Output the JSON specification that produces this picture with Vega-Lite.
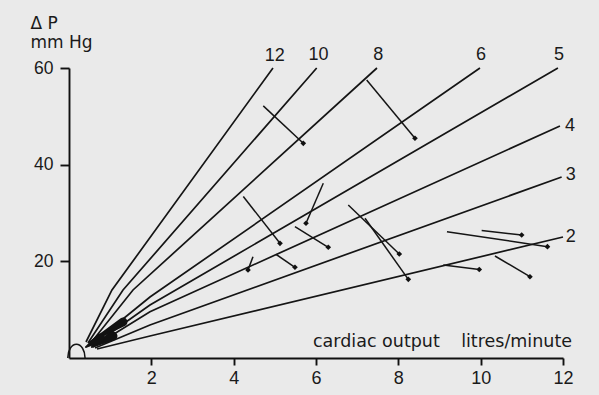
{
  "$schema": "https://vega.github.io/schema/vega-lite/v6.json",
  "width": 494,
  "height": 290,
  "autosize": {"type": "none"},
  "padding": {"left": 69, "top": 68, "right": 36, "bottom": 37},
  "background": "#eaeaea",
  "config": {
    "view": {"stroke": null},
    "axis": {
      "grid": false,
      "domainColor": "#111111",
      "tickColor": "#111111",
      "labelColor": "#1a1a1a",
      "labelFont": "Liberation Sans",
      "labelFontSize": 18,
      "domainWidth": 1.9,
      "tickWidth": 1.9,
      "labelFlush": false,
      "labelOverlap": false
    },
    "axisX": {"tickSize": 7, "labelPadding": 4},
    "axisY": {
      "tickSize": 9, "labelPadding": 7, "labelFontSize": 17.5,
      "titleAngle": 0, "titleAlign": "left", "titleBaseline": "alphabetic",
      "titleX": -39, "titleY": -40, "titleLineHeight": 19, "titleFont": "DejaVu Sans",
      "titleFontSize": 17, "titleFontWeight": "normal", "titleColor": "#1a1a1a"
    }
  },
  "datasets": {
    "lines": [
      {"r": "12", "i": 0, "x": 0.413, "y": 3.31},
      {"r": "12", "i": 1, "x": 1.044, "y": 14.07},
      {"r": "12", "i": 2, "x": 4.955, "y": 60.0},
      {"r": "10", "i": 0, "x": 0.461, "y": 3.10},
      {"r": "10", "i": 1, "x": 1.312, "y": 14.07},
      {"r": "10", "i": 2, "x": 6.017, "y": 60.0},
      {"r": "8", "i": 0, "x": 0.510, "y": 2.90},
      {"r": "8", "i": 1, "x": 1.555, "y": 14.07},
      {"r": "8", "i": 2, "x": 7.481, "y": 60.0},
      {"r": "6", "i": 0, "x": 0.534, "y": 2.69},
      {"r": "6", "i": 1, "x": 1.967, "y": 12.62},
      {"r": "6", "i": 2, "x": 9.983, "y": 60.0},
      {"r": "5", "i": 0, "x": 0.559, "y": 2.48},
      {"r": "5", "i": 1, "x": 1.967, "y": 10.97},
      {"r": "5", "i": 2, "x": 11.877, "y": 60.0},
      {"r": "4", "i": 0, "x": 0.583, "y": 2.28},
      {"r": "4", "i": 1, "x": 1.967, "y": 9.58},
      {"r": "4", "i": 2, "x": 11.926, "y": 48.0},
      {"r": "3", "i": 0, "x": 0.632, "y": 2.07},
      {"r": "3", "i": 1, "x": 1.967, "y": 6.83},
      {"r": "3", "i": 2, "x": 11.967, "y": 37.45},
      {"r": "2", "i": 0, "x": 0.680, "y": 1.86},
      {"r": "2", "i": 1, "x": 1.967, "y": 4.55},
      {"r": "2", "i": 2, "x": 12.0, "y": 25.04}
    ],
    "arrows": [
      {"x": 4.719, "y": 52.17, "x2": 5.691, "y2": 44.42},
      {"x": 7.231, "y": 57.52, "x2": 8.404, "y2": 45.46},
      {"x": 4.234, "y": 33.42, "x2": 5.125, "y2": 23.73},
      {"x": 4.469, "y": 20.96, "x2": 4.348, "y2": 18.21},
      {"x": 6.177, "y": 36.15, "x2": 5.757, "y2": 27.87},
      {"x": 5.489, "y": 27.17, "x2": 6.298, "y2": 22.91},
      {"x": 5.028, "y": 21.46, "x2": 5.489, "y2": 18.77},
      {"x": 6.784, "y": 31.66, "x2": 8.023, "y2": 21.52},
      {"x": 7.190, "y": 28.91, "x2": 8.242, "y2": 16.28},
      {"x": 9.181, "y": 26.13, "x2": 11.622, "y2": 23.03},
      {"x": 10.024, "y": 26.38, "x2": 10.996, "y2": 25.45},
      {"x": 9.092, "y": 19.24, "x2": 9.966, "y2": 18.31},
      {"x": 10.347, "y": 21.10, "x2": 11.197, "y2": 16.82}
    ],
    "wedges": [
      {"w": 1, "i": 0, "x": 1.312, "y": 7.45},
      {"w": 1, "i": 1, "x": 0.510, "y": 3.31},
      {"w": 2, "i": 0, "x": 1.069, "y": 4.55},
      {"w": 2, "i": 1, "x": 0.559, "y": 2.28},
      {"w": 3, "i": 0, "x": 0.753, "y": 4.14},
      {"w": 3, "i": 1, "x": 0.413, "y": 2.28}
    ],
    "labels": [
      {"t": "12", "x": 5.00, "y": 62.4},
      {"t": "10", "x": 6.06, "y": 62.6},
      {"t": "8", "x": 7.51, "y": 62.6},
      {"t": "6", "x": 10.01, "y": 62.6},
      {"t": "5", "x": 11.90, "y": 62.6},
      {"t": "4", "x": 12.17, "y": 48.0},
      {"t": "3", "x": 12.19, "y": 37.8},
      {"t": "2", "x": 12.19, "y": 25.1}
    ]
  },
  "layer": [
    {
      "data": {"name": "lines"},
      "mark": {"type": "line", "color": "#151515", "strokeWidth": 1.7},
      "encoding": {
        "x": {"field": "x", "type": "quantitative", "scale": {"domain": [0, 12], "nice": false, "zero": false}, "axis": {"title": null, "values": [2, 4, 6, 8, 10, 12]}},
        "y": {"field": "y", "type": "quantitative", "scale": {"domain": [0, 60], "nice": false, "zero": false}, "axis": {"title": ["Δ P", "mm Hg"], "values": [20, 40, 60]}},
        "detail": {"field": "r"},
        "order": {"field": "i", "type": "quantitative"}
      }
    },
    {
      "data": {"name": "arrows"},
      "mark": {"type": "rule", "color": "#151515", "strokeWidth": 1.5},
      "encoding": {
        "x": {"field": "x", "type": "quantitative", "scale": {"domain": [0, 12], "nice": false, "zero": false}, "axis": {"title": null, "values": [2, 4, 6, 8, 10, 12]}},
        "y": {"field": "y", "type": "quantitative", "scale": {"domain": [0, 60], "nice": false, "zero": false}, "axis": {"title": ["Δ P", "mm Hg"], "values": [20, 40, 60]}},
        "x2": {"field": "x2"},
        "y2": {"field": "y2"}
      }
    },
    {
      "data": {"name": "arrows"},
      "mark": {"type": "point", "shape": "diamond", "filled": true, "size": 32, "color": "#111111", "opacity": 1},
      "encoding": {
        "x": {"field": "x2", "type": "quantitative", "scale": {"domain": [0, 12], "nice": false, "zero": false}, "axis": {"title": null, "values": [2, 4, 6, 8, 10, 12]}},
        "y": {"field": "y2", "type": "quantitative", "scale": {"domain": [0, 60], "nice": false, "zero": false}, "axis": {"title": ["Δ P", "mm Hg"], "values": [20, 40, 60]}}
      }
    },
    {
      "data": {"name": "wedges"},
      "mark": {"type": "trail", "color": "#111111"},
      "encoding": {
        "x": {"field": "x", "type": "quantitative", "scale": {"domain": [0, 12], "nice": false, "zero": false}, "axis": {"title": null, "values": [2, 4, 6, 8, 10, 12]}},
        "y": {"field": "y", "type": "quantitative", "scale": {"domain": [0, 60], "nice": false, "zero": false}, "axis": {"title": ["Δ P", "mm Hg"], "values": [20, 40, 60]}},
        "detail": {"field": "w"},
        "order": {"field": "i", "type": "quantitative"},
        "size": {"field": "i", "type": "quantitative", "scale": {"domain": [0, 1], "range": [9, 2]}, "legend": null}
      }
    },
    {
      "data": {"values": [{}]},
      "mark": {"type": "point", "shape": "M-1,1 A1,1.6 0 0 1 1,1", "filled": false, "size": 300, "stroke": "#151515", "strokeWidth": 1.5, "opacity": 1},
      "encoding": {
        "x": {"datum": 0.18, "type": "quantitative", "scale": {"domain": [0, 12], "nice": false, "zero": false}, "axis": {"title": null, "values": [2, 4, 6, 8, 10, 12]}},
        "y": {"datum": 1.78, "type": "quantitative", "scale": {"domain": [0, 60], "nice": false, "zero": false}, "axis": {"title": ["Δ P", "mm Hg"], "values": [20, 40, 60]}}
      }
    },
    {
      "data": {"name": "labels"},
      "mark": {"type": "text", "align": "center", "baseline": "middle", "font": "Liberation Sans", "fontSize": 18, "color": "#1a1a1a"},
      "encoding": {
        "x": {"field": "x", "type": "quantitative", "scale": {"domain": [0, 12], "nice": false, "zero": false}, "axis": {"title": null, "values": [2, 4, 6, 8, 10, 12]}},
        "y": {"field": "y", "type": "quantitative", "scale": {"domain": [0, 60], "nice": false, "zero": false}, "axis": {"title": ["Δ P", "mm Hg"], "values": [20, 40, 60]}},
        "text": {"field": "t"}
      }
    },
    {
      "data": {"values": [{}]},
      "mark": {"type": "text", "text": "cardiac output", "align": "left", "baseline": "alphabetic", "font": "DejaVu Sans", "fontSize": 17.5, "color": "#1a1a1a"},
      "encoding": {
        "x": {"datum": 5.927, "type": "quantitative", "scale": {"domain": [0, 12], "nice": false, "zero": false}, "axis": {"title": null, "values": [2, 4, 6, 8, 10, 12]}},
        "y": {"datum": 2.28, "type": "quantitative", "scale": {"domain": [0, 60], "nice": false, "zero": false}, "axis": {"title": ["Δ P", "mm Hg"], "values": [20, 40, 60]}}
      }
    },
    {
      "data": {"values": [{}]},
      "mark": {"type": "text", "text": "litres/minute", "align": "right", "baseline": "alphabetic", "font": "DejaVu Sans", "fontSize": 17.5, "color": "#1a1a1a"},
      "encoding": {
        "x": {"datum": 12.22, "type": "quantitative", "scale": {"domain": [0, 12], "nice": false, "zero": false}, "axis": {"title": null, "values": [2, 4, 6, 8, 10, 12]}},
        "y": {"datum": 2.28, "type": "quantitative", "scale": {"domain": [0, 60], "nice": false, "zero": false}, "axis": {"title": ["Δ P", "mm Hg"], "values": [20, 40, 60]}}
      }
    }
  ]
}
